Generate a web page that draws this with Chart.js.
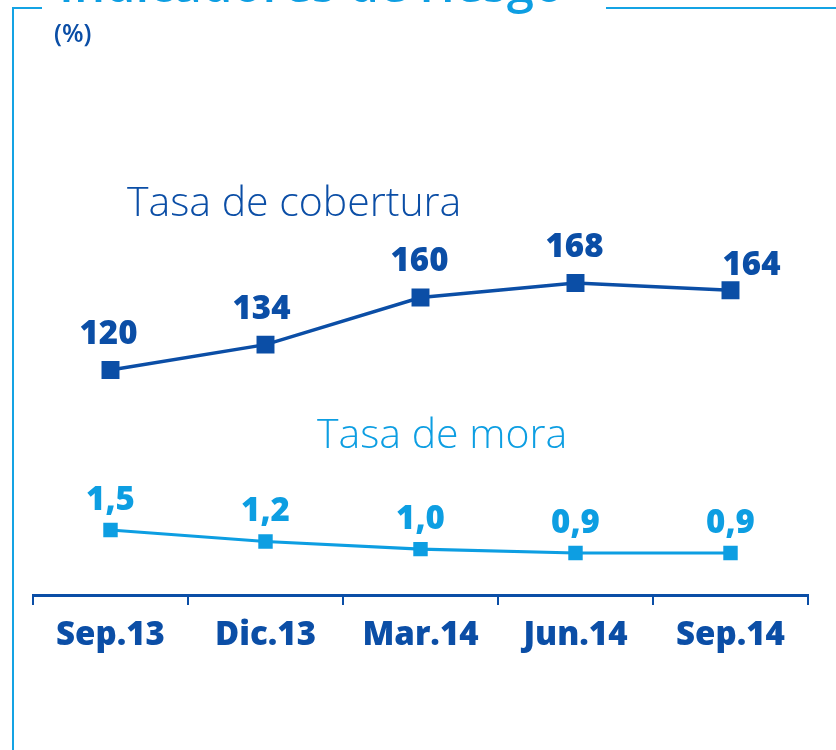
<!DOCTYPE html>
<html>
<head>
<meta charset="utf-8">
<script src="https://cdn.jsdelivr.net/npm/chart.js@4"></script>
<style>
  body { margin: 0; background: #fff; }
  #wrap { position: relative; width: 836px; height: 750px; overflow: hidden; font-family: "Open Sans", sans-serif; }
  #salesChart { position: absolute; left: 0; top: 0; }
  .frame-left { position: absolute; left: 12px; top: 8px; width: 2px; height: 760px; background: #14a3e4; }
  .frame-top1 { position: absolute; left: 12px; top: 7px; width: 30px; height: 2px; background: #14a3e4; }
  .frame-top2 { position: absolute; left: 606px; top: 7px; width: 240px; height: 2px; background: #14a3e4; }
  .title { position: absolute; left: 59px; top: -50px; font-size: 49px; font-weight: 600; color: #0d9ee2; white-space: nowrap; }
  .unit { position: absolute; left: 54px; top: 15px; font-size: 25px; font-weight: 600; color: #0b4ea6; }
  .series-name { position: absolute; font-size: 41px; font-weight: 300; white-space: nowrap; }
</style>
</head>
<body>
<div id="wrap">
  <canvas id="salesChart" width="836" height="750"></canvas>
  <div class="frame-left"></div>
  <div class="frame-top1"></div>
  <div class="frame-top2"></div>
  <div class="title">Indicadores de riesgo</div>
  <div class="unit">(%)</div>
  <div class="series-name" style="left:127px; top:172px; color:#0b4ea6;">Tasa de cobertura</div>
  <div class="series-name" style="left:317px; top:404px; color:#0d9ee2;">Tasa de mora</div>
</div>
<script>
// data
const periods = ["Sep.13", "Dic.13", "Mar.14", "Jun.14", "Sep.14"];
const coberturaValues = [120, 134, 160, 168, 164];
const moraValues = [1.5, 1.2, 1.0, 0.9, 0.9];

const darkBlue = "#0b4ea6";
const lightBlue = "#0d9ee2";

// draws the value above each point
const valueLabels = {
    id: "valueLabels",
    afterDatasetsDraw(chart) {
        let ctx = chart.ctx;
        chart.data.datasets.forEach((ds, i) => {
            let meta = chart.getDatasetMeta(i);
            meta.data.forEach((pt, j) => {
                let shift = ds.labelShift[j] || [0, 0];
                ctx.save();
                ctx.font = "800 33px 'Open Sans'";
                ctx.fillStyle = ds.borderColor;
                ctx.textAlign = "center";
                ctx.textBaseline = "alphabetic";
                ctx.fillText(ds.labelText[j], pt.x + shift[0], pt.y - ds.labelGap + shift[1]);
                ctx.restore();
            });
        });
    }
};

Chart.defaults.font.family = "'Open Sans', sans-serif";

let ctx = document.getElementById("salesChart").getContext("2d");
new Chart(ctx, {
    type: "line",
    data: {
        labels: periods,
        datasets: [{
            label: "Tasa de cobertura",
            data: coberturaValues,
            yAxisID: "y",
            borderColor: darkBlue,
            backgroundColor: darkBlue,
            borderWidth: 3.5,
            pointStyle: "rect",
            pointRadius: 12.7,
            pointBorderWidth: 0,
            tension: 0,
            labelText: coberturaValues.map(v => String(v)),
            labelGap: 26,
            labelShift: [[-2, 0], [-4, 0], [-1, 0], [-1, 0], [21, 11]]
        }, {
            label: "Tasa de mora",
            data: moraValues,
            yAxisID: "y2",
            borderColor: lightBlue,
            backgroundColor: lightBlue,
            borderWidth: 3.2,
            pointStyle: "rect",
            pointRadius: 10.2,
            pointBorderWidth: 0,
            tension: 0,
            labelText: moraValues.map(v => v.toFixed(1).replace(".", ",")),
            labelGap: 20,
            labelShift: [[0, 0], [0, 0], [0, 0], [0, 0], [0, 0]]
        }]
    },
    options: {
        responsive: false,
        animation: false,
        layout: { padding: { left: 33, right: 28, top: 60, bottom: 0 } },
        plugins: { legend: { display: false }, tooltip: { enabled: false } },
        scales: {
            x: {
                offset: true,
                afterFit: scale => { scale.height = 155; },
                border: { display: true, color: darkBlue, width: 3 },
                grid: { drawOnChartArea: false, drawTicks: true, tickLength: 10, color: darkBlue, lineWidth: 2, offset: true },
                ticks: { color: darkBlue, font: { size: 33, weight: 800 }, padding: 11, maxRotation: 0 }
            },
            y: { display: false, min: -4.14, max: 291.03 },
            y2: { display: false, min: -0.196, max: 13.76 }
        }
    },
    plugins: [valueLabels]
});
</script>
</body>
</html>
